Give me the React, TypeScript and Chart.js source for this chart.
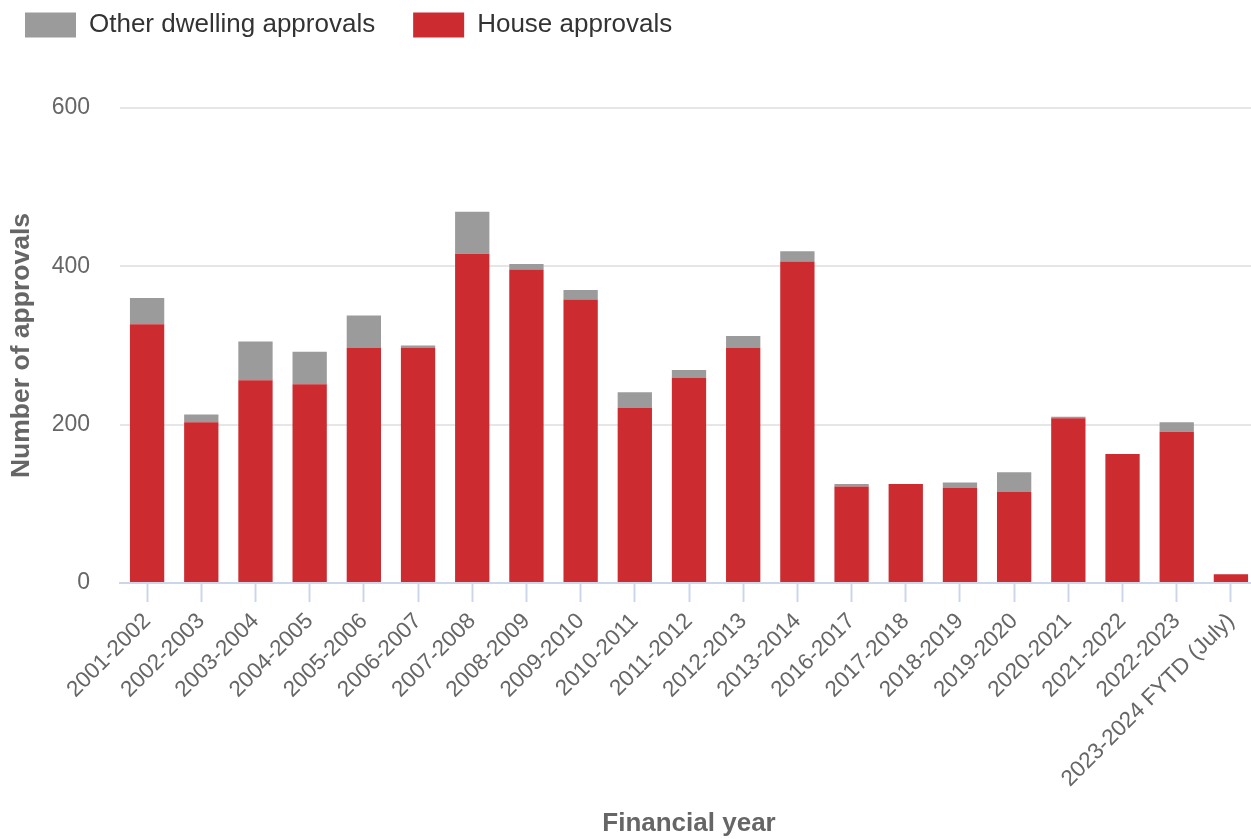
import React, { useEffect, useRef } from 'react';
import { Chart, registerables } from 'chart.js';

Chart.register(...registerables);

const categories = [
  '2001-2002', '2002-2003', '2003-2004', '2004-2005', '2005-2006', '2006-2007',
  '2007-2008', '2008-2009', '2009-2010', '2010-2011', '2011-2012', '2012-2013',
  '2013-2014', '2016-2017', '2017-2018', '2018-2019', '2019-2020', '2020-2021',
  '2021-2022', '2022-2023', '2023-2024 FYTD (July)',
];

const houseApprovals = [327, 203, 256, 251, 297, 297, 416, 396, 358, 221, 259, 297, 406, 122, 125, 120, 115, 208, 163, 191, 11];
const otherApprovals = [33, 10, 49, 41, 41, 3, 53, 7, 12, 20, 10, 15, 13, 3, 0, 7, 25, 2, 0, 12, 0];

const yTicks = [0, 200, 400, 600];

const FONT = "'Liberation Sans', Arial, Helvetica, sans-serif";

const legendPlacer = {
  id: 'legendPlacer',
  afterLayout(chart: any) {
    const lg = chart.legend;
    if (!lg) return;
    const pad = lg.options.labels.padding;
    lg.left = 25 - pad;
    lg.top = 12 - pad;
  },
};

export default function App() {
  const ref = useRef<HTMLCanvasElement | null>(null);

  useEffect(() => {
    document.body.style.margin = '0';
    const canvas = ref.current;
    if (!canvas) return;
    const chart = new Chart(canvas, {
      type: 'bar',
      data: {
        labels: categories,
        datasets: [
          {
            label: 'House approvals',
            data: houseApprovals,
            backgroundColor: '#cc2b30',
            borderWidth: 0,
            stack: 's',
          },
          {
            label: 'Other dwelling approvals',
            data: otherApprovals,
            backgroundColor: '#9b9b9b',
            borderWidth: 0,
            stack: 's',
          },
        ],
      },
      options: {
        responsive: false,
        animation: false,
        layout: { padding: { top: 34, left: 0, right: 0, bottom: 0 } },
        datasets: { bar: { categoryPercentage: 0.633, barPercentage: 1 } },
        plugins: {
          legend: {
            position: 'top',
            align: 'start',
            reverse: true,
            labels: {
              boxWidth: 51,
              boxHeight: 25,
              padding: 38,
              color: '#333333',
              font: { family: FONT, size: 26 },
            },
          },
          tooltip: { enabled: false },
        },
        scales: {
          x: {
            stacked: true,
            afterFit: (s: any) => { s.height = 256; },
            border: { display: true, color: '#ccd6eb', width: 2 },
            grid: {
              display: true,
              drawOnChartArea: false,
              drawTicks: true,
              tickLength: 19,
              tickWidth: 2,
              tickColor: '#ccd6eb',
              color: '#ccd6eb',
              offset: false,
            },
            ticks: {
              autoSkip: false,
              minRotation: 45,
              maxRotation: 45,
              padding: 6,
              color: '#666666',
              font: { family: FONT, size: 22.5 },
            },
            title: {
              display: true,
              text: 'Financial year',
              color: '#666666',
              font: { family: FONT, size: 26, weight: 'bold' },
              padding: { top: 0, bottom: 0 },
            },
          },
          y: {
            stacked: true,
            min: 0,
            max: 600,
            afterFit: (s: any) => { s.width = 120; },
            afterBuildTicks: (s: any) => { s.ticks = yTicks.map((v) => ({ value: v })); },
            border: { display: false },
            grid: {
              drawTicks: false,
              lineWidth: 2,
              color: (c: any) => (c.tick && c.tick.value === 0 ? 'rgba(0,0,0,0)' : '#e6e6e6'),
            },
            ticks: {
              padding: 30,
              color: '#666666',
              font: { family: FONT, size: 23 },
            },
            title: {
              display: true,
              text: 'Number of approvals',
              color: '#666666',
              font: { family: FONT, size: 26.5, weight: 'bold' },
              padding: { top: 6, bottom: 0 },
            },
          },
        },
      },
      plugins: [legendPlacer],
    } as any);
    return () => chart.destroy();
  }, []);

  return (
    <div style={{ width: 1251, height: 839, overflow: 'hidden', position: 'relative' }}>
      <canvas ref={ref} width={1258} height={839} style={{ display: 'block' }} />
    </div>
  );
}
